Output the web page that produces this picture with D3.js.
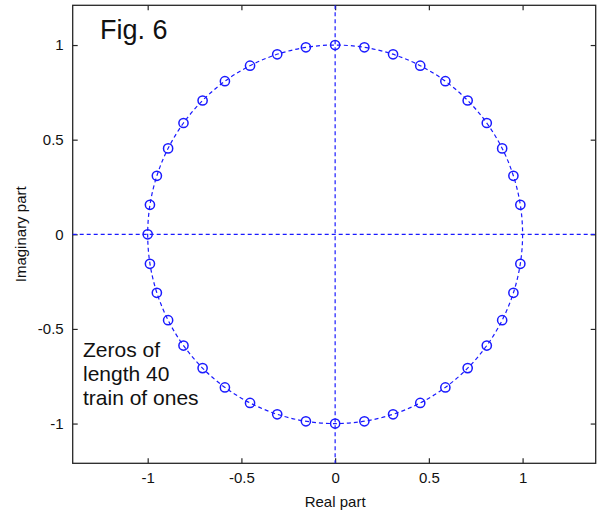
<!DOCTYPE html>
<html>
<head>
<meta charset="utf-8">
<script src="https://cdn.jsdelivr.net/npm/d3@7"></script>
<style>
  body { margin: 0; background: #fff; }
  svg text { font-family: "Liberation Sans", Arial, sans-serif; fill: #111; }
</style>
</head>
<body>
<script>
// zeros of a length-40 train of ones
var zero_re = [0.988, 0.951, 0.891, 0.809, 0.707, 0.588, 0.454, 0.309, 0.156, 0.000,
               -0.156, -0.309, -0.454, -0.588, -0.707, -0.809, -0.891, -0.951, -0.988, -1.000,
               -0.988, -0.951, -0.891, -0.809, -0.707, -0.588, -0.454, -0.309, -0.156, 0.000,
               0.156, 0.309, 0.454, 0.588, 0.707, 0.809, 0.891, 0.951, 0.988];
var zero_im = [0.156, 0.309, 0.454, 0.588, 0.707, 0.809, 0.891, 0.951, 0.988, 1.000,
               0.988, 0.951, 0.891, 0.809, 0.707, 0.588, 0.454, 0.309, 0.156, 0.000,
               -0.156, -0.309, -0.454, -0.588, -0.707, -0.809, -0.891, -0.951, -0.988, -1.000,
               -0.988, -0.951, -0.891, -0.809, -0.707, -0.588, -0.454, -0.309, -0.156];
var x_ticks = [-1, -0.5, 0, 0.5, 1];
var y_ticks = [-1, -0.5, 0, 0.5, 1];
var fig_title = "Fig. 6";
var note_lines = ["Zeros of", "length 40", "train of ones"];

var W = 600, H = 514;
var box = {left: 72.7, right: 595.7, top: 5.3, bottom: 463.3};
var blue = "#1a1aff";

var x = d3.scaleLinear().domain([-1.4, 1.39]).range([box.left, box.right]);
var y = d3.scaleLinear().domain([-1.21, 1.21]).range([box.bottom, box.top]);

var svg = d3.select("body").append("svg")
            .attr("width", W).attr("height", H);

// matlab style labels use a plain hyphen
var fmt = function(d) { return String(d); };

// axes with inward ticks, mirrored on all four sides
var ax = [
  {g: d3.axisBottom(x), t: "translate(0," + box.bottom + ")"},
  {g: d3.axisTop(x), t: "translate(0," + box.top + ")"},
  {g: d3.axisLeft(y), t: "translate(" + box.left + ",0)"},
  {g: d3.axisRight(y), t: "translate(" + box.right + ",0)"}
];
ax.forEach(function(a, i) {
  var axis = a.g.tickSize(-5).tickPadding(9);
  if (i < 2) axis.tickValues(x_ticks); else axis.tickValues(y_ticks);
  axis.tickFormat(i == 0 || i == 2 ? fmt : "");
  var g = svg.append("g").attr("transform", a.t).call(axis);
  g.select(".domain").remove();
  g.selectAll("line").attr("stroke", "#262626").attr("stroke-width", 1.2);
  g.selectAll("text").style("font-size", "15px").attr("fill", "#111");
});

// plot box
svg.append("rect")
   .attr("x", box.left).attr("y", box.top)
   .attr("width", box.right - box.left).attr("height", box.bottom - box.top)
   .attr("fill", "none").attr("stroke", "#262626").attr("stroke-width", 1.3);

// dashed reference lines through the origin
svg.append("line")
   .attr("x1", box.left).attr("x2", box.right).attr("y1", y(0)).attr("y2", y(0))
   .attr("stroke", blue).attr("stroke-width", 1.2).attr("stroke-dasharray", "4,3");
svg.append("line")
   .attr("x1", x(0)).attr("x2", x(0)).attr("y1", box.top).attr("y2", box.bottom)
   .attr("stroke", blue).attr("stroke-width", 1.2).attr("stroke-dasharray", "4,3");

// dashed unit circle
svg.append("ellipse")
   .attr("cx", x(0)).attr("cy", y(0))
   .attr("rx", x(1) - x(0)).attr("ry", y(0) - y(1))
   .attr("fill", "none").attr("stroke", blue).attr("stroke-width", 1.2)
   .attr("stroke-dasharray", "4,3");

// zeros
svg.append("g").selectAll("circle")
   .data(zero_re.map(function(r, i) { return {re: r, im: zero_im[i]}; }))
   .enter().append("circle")
   .attr("cx", function(d) { return x(d.re); })
   .attr("cy", function(d) { return y(d.im); })
   .attr("r", 4.6)
   .attr("fill", "none").attr("stroke", blue).attr("stroke-width", 1.5);

// axis labels
svg.append("text").attr("x", x(0)).attr("y", 507)
   .attr("text-anchor", "middle").style("font-size", "15px").text("Real part");
svg.append("text").attr("transform", "translate(26," + y(0) + ") rotate(-90)")
   .attr("text-anchor", "middle").style("font-size", "15px").text("Imaginary part");

// annotations
svg.append("text").attr("x", 100).attr("y", 39)
   .style("font-size", "27px").text(fig_title);
svg.append("g").selectAll("text").data(note_lines).enter().append("text")
   .attr("x", 83).attr("y", function(d, i) { return 357 + i * 24; })
   .style("font-size", "21px").text(function(d) { return d; });
</script>
</body>
</html>
